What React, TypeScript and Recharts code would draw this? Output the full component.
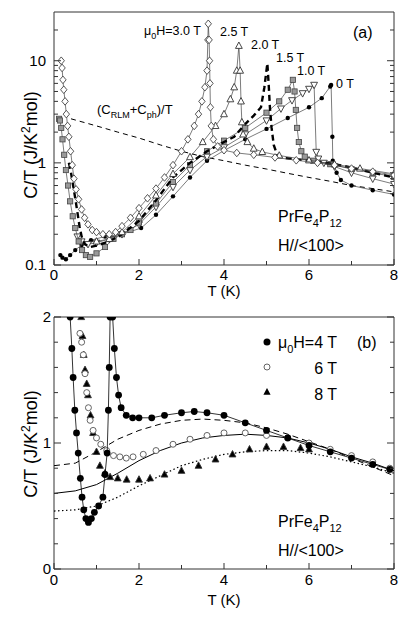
import { ComposedChart, Scatter, XAxis, YAxis } from "recharts";

const FONT = '"Liberation Sans", Arial, Helvetica, sans-serif';
const AXIS = "#333";

// ---- panel (a): C/T vs T, log scale ----
const xTicks = [0, 1, 2, 3, 4, 5, 6, 7, 8];
const xLabels = [0, 2, 4, 6, 8];
const logTicks = [0.1, 0.2, 0.3, 0.4, 0.5, 0.6, 0.7, 0.8, 0.9, 1, 2, 3, 4, 5, 6, 7, 8, 9, 10, 20];
const logLabels = [0.1, 1, 10];

const crlm = [
  [0.4, 2.7], [1.0, 2.3], [1.5, 2.0], [2.0, 1.75], [2.5, 1.5], [3.0, 1.3], [3.5, 1.15],
  [4.0, 1.05], [4.5, 0.95], [5.0, 0.87], [5.5, 0.79], [6.0, 0.72], [6.5, 0.66], [7.0, 0.6],
  [7.5, 0.56], [8.0, 0.52],
];

const h00 = [
  [0.15, 0.125], [0.2, 0.118], [0.28, 0.114], [0.38, 0.125], [0.5, 0.14], [0.65, 0.157],
  [0.87, 0.175], [1.2, 0.19], [1.6, 0.2], [2.05, 0.23], [2.4, 0.31], [2.8, 0.47], [3.2, 0.72],
  [3.6, 1.05], [4.0, 1.32], [4.5, 1.7], [5.0, 2.15], [5.5, 2.75], [6.0, 3.5], [6.3, 4.3],
  [6.5, 5.6], [6.52, 5.8], [6.55, 1.8], [6.56, 1.05], [6.6, 0.95], [6.65, 0.8], [6.75, 0.68],
  [7.0, 0.6], [7.5, 0.54], [8.0, 0.49],
];

const h10 = [
  [0.55, 0.19], [0.65, 0.17], [0.8, 0.16], [1.0, 0.165], [1.3, 0.18], [1.6, 0.2], [2.0, 0.25],
  [2.4, 0.37], [2.8, 0.58], [3.2, 0.85], [3.6, 1.15], [4.0, 1.42], [4.5, 1.9], [5.0, 2.6],
  [5.34, 3.4], [5.6, 4.1], [5.85, 4.8], [6.0, 5.3], [6.12, 5.8], [6.17, 1.28], [6.22, 1.1],
  [6.35, 1.0], [6.6, 0.92], [7.0, 0.8], [7.5, 0.7], [8.0, 0.62],
];

const h15 = [
  [0.12, 2.7], [0.14, 2.6], [0.17, 2.2], [0.2, 1.7], [0.24, 1.2], [0.28, 0.85], [0.33, 0.6],
  [0.38, 0.42], [0.44, 0.3], [0.5, 0.23], [0.58, 0.17], [0.66, 0.14], [0.75, 0.125], [0.85, 0.12],
  [1.0, 0.13], [1.2, 0.15], [1.4, 0.18], [1.6, 0.2], [1.8, 0.22], [2.0, 0.26], [2.4, 0.4],
  [2.8, 0.65], [3.2, 0.95], [3.6, 1.3], [4.0, 1.65], [4.5, 2.2], [5.0, 3.1], [5.3, 4.0],
  [5.5, 5.2], [5.62, 6.5], [5.66, 5.0], [5.69, 3.3], [5.72, 2.2], [5.76, 1.6], [5.82, 1.3],
  [5.9, 1.15], [6.1, 1.05], [6.5, 0.97], [7.0, 0.87], [7.5, 0.8], [8.0, 0.73],
];

const h20 = [
  [0.35, 1.0], [0.4, 0.8], [0.45, 0.6], [0.5, 0.45], [0.55, 0.33], [0.6, 0.24], [0.65, 0.19],
  [0.72, 0.16], [0.85, 0.15], [1.0, 0.155], [1.3, 0.17], [1.6, 0.2], [2.0, 0.27], [2.4, 0.43],
  [2.8, 0.72], [3.2, 1.0], [3.6, 1.3], [4.0, 1.6], [4.24, 1.8], [4.5, 2.4], [4.7, 2.9],
  [4.87, 3.5], [4.95, 5.5], [5.02, 9.4], [5.05, 6.0], [5.08, 3.5], [5.12, 2.2], [5.17, 1.5],
  [5.25, 1.2], [5.4, 1.12], [6.0, 1.05], [6.6, 0.97], [7.0, 0.9], [7.5, 0.8], [8.0, 0.72],
];

const h25 = [
  [1.0, 0.17], [1.3, 0.18], [1.6, 0.21], [2.0, 0.3], [2.4, 0.48], [2.8, 0.78], [3.2, 1.14],
  [3.5, 1.6], [3.8, 2.3], [4.0, 3.0], [4.15, 4.2], [4.24, 5.5], [4.3, 8.0], [4.35, 14],
  [4.38, 8.0], [4.4, 4.0], [4.42, 2.5], [4.45, 1.9], [4.55, 1.6], [4.7, 1.38], [4.9, 1.28],
  [5.3, 1.18], [6.0, 1.06], [6.6, 0.97], [7.2, 0.88], [8.0, 0.78],
];

const h30 = [
  [0.17, 10], [0.19, 8.5], [0.21, 6.5], [0.23, 5.2], [0.26, 4.0], [0.29, 3.0], [0.32, 2.3],
  [0.35, 1.8], [0.39, 1.3], [0.43, 0.95], [0.47, 0.7], [0.52, 0.55], [0.58, 0.44], [0.65, 0.35],
  [0.72, 0.29], [0.8, 0.25], [0.9, 0.22], [1.0, 0.21], [1.15, 0.2], [1.3, 0.2], [1.45, 0.21],
  [1.6, 0.24], [1.8, 0.29], [2.0, 0.36], [2.2, 0.45], [2.4, 0.56], [2.6, 0.72], [2.8, 0.95],
  [3.0, 1.3], [3.15, 1.7], [3.3, 2.3], [3.4, 3.0], [3.48, 4.0], [3.55, 5.5], [3.6, 8.0],
  [3.62, 16], [3.63, 23], [3.65, 16], [3.66, 10], [3.67, 6.0], [3.68, 3.5], [3.7, 2.3],
  [3.75, 1.7], [3.85, 1.45], [4.0, 1.33], [4.3, 1.25], [4.7, 1.2], [5.2, 1.13], [5.7, 1.06],
  [6.2, 1.0], [6.6, 0.95], [7.0, 0.88], [7.5, 0.82], [8.0, 0.76],
];

// ---- panel (b): C/T vs T, linear ----
const linTicks = [0, 0.2, 0.4, 0.6, 0.8, 1, 1.2, 1.4, 1.6, 1.8, 2];
const linLabels = [0, 1, 2];

const b4 = [
  [0.38, 2.0], [0.42, 1.75], [0.45, 1.52], [0.49, 1.26], [0.53, 1.08], [0.57, 0.92], [0.62, 0.72],
  [0.66, 0.57], [0.7, 0.47], [0.75, 0.4], [0.81, 0.37], [0.88, 0.4], [0.95, 0.45], [1.05, 0.5],
  [1.15, 0.57], [1.2, 0.75], [1.25, 0.92], [1.28, 1.26], [1.3, 1.6], [1.32, 2.0], [1.35, 2.6],
  [1.38, 2.0], [1.42, 1.75], [1.47, 1.52], [1.52, 1.38], [1.58, 1.28], [1.7, 1.22], [1.85, 1.2],
  [2.0, 1.2], [2.3, 1.2], [2.6, 1.22], [3.0, 1.24], [3.3, 1.25], [3.6, 1.24], [4.0, 1.22],
  [4.5, 1.16], [5.0, 1.1], [5.5, 1.04], [6.0, 0.98], [6.5, 0.93], [7.0, 0.88], [7.5, 0.83],
  [7.9, 0.79],
];

const b6 = [
  [0.61, 1.87], [0.65, 1.8], [0.69, 1.7], [0.73, 1.55], [0.77, 1.4], [0.81, 1.28], [0.85, 1.18],
  [0.92, 1.1], [1.0, 1.04], [1.1, 0.99], [1.24, 0.94], [1.4, 0.9], [1.55, 0.89], [1.7, 0.88],
  [1.86, 0.89], [2.1, 0.91], [2.4, 0.94], [2.8, 0.99], [3.2, 1.03], [3.6, 1.06], [4.0, 1.08],
  [4.5, 1.08], [5.0, 1.06], [5.5, 1.04], [6.0, 1.0], [6.5, 0.95], [7.0, 0.9], [7.5, 0.85],
  [7.9, 0.8],
];

const b8 = [
  [0.64, 2.0], [0.67, 1.85], [0.7, 1.7], [0.73, 1.58], [0.77, 1.47], [0.8, 1.38], [0.86, 1.22],
  [0.92, 1.08], [1.0, 0.93], [1.08, 0.82], [1.2, 0.76], [1.32, 0.73], [1.5, 0.72], [1.71, 0.71],
  [2.0, 0.71], [2.26, 0.72], [2.6, 0.75], [3.0, 0.78], [3.4, 0.82], [3.8, 0.87], [4.2, 0.91],
  [4.6, 0.95], [5.0, 0.97], [5.4, 0.97], [5.8, 0.96], [6.0, 0.95],
];

const calc4 = [
  [0, 0.82], [0.5, 0.84], [1, 0.93], [1.5, 1.03], [2, 1.1], [2.5, 1.15], [3, 1.18], [3.5, 1.19],
  [4, 1.18], [4.5, 1.16], [5, 1.12], [5.5, 1.07], [6, 1.01], [6.5, 0.95], [7, 0.88], [7.5, 0.81],
  [8, 0.74],
];
const calc6 = [
  [0, 0.6], [0.5, 0.62], [1, 0.67], [1.5, 0.76], [2, 0.86], [2.5, 0.94], [3, 1.0], [3.5, 1.04],
  [4, 1.06], [4.5, 1.07], [5, 1.06], [5.5, 1.04], [6, 1.0], [6.5, 0.95], [7, 0.89], [7.5, 0.84],
  [8, 0.78],
];
const calc8 = [
  [0, 0.46], [0.5, 0.47], [1, 0.5], [1.5, 0.57], [2, 0.66], [2.5, 0.74], [3, 0.82], [3.5, 0.87],
  [4, 0.91], [4.5, 0.93], [5, 0.94], [5.5, 0.94], [6, 0.92], [6.5, 0.89], [7, 0.85], [7.5, 0.81],
  [8, 0.76],
];

const pts = (rows: number[][]) => rows.map(([t, c]) => ({ t, c }));

// ---- markers ----
const NoDot = () => <g />;
const Diamond = ({ cx, cy }: any) => (
  <path d={`M${cx},${cy - 3.8}L${cx + 3.2},${cy}L${cx},${cy + 3.8}L${cx - 3.2},${cy}Z`} fill="#fff" stroke="#444" strokeWidth={0.9} />
);
const TriUp = ({ cx, cy, fill = "#fff" }: any) => (
  <path d={`M${cx},${cy - 3.8}L${cx + 3.4},${cy + 2.6}L${cx - 3.4},${cy + 2.6}Z`} fill={fill} stroke="#333" strokeWidth={0.9} />
);
const TriDown = ({ cx, cy }: any) => (
  <path d={`M${cx},${cy + 3.8}L${cx + 3.4},${cy - 2.6}L${cx - 3.4},${cy - 2.6}Z`} fill="#fff" stroke="#333" strokeWidth={0.9} />
);
const Square = ({ cx, cy }: any) => (
  <rect x={cx - 2.6} y={cy - 2.6} width={5.2} height={5.2} fill="#999" stroke="#444" strokeWidth={0.8} />
);
const Dot = ({ cx, cy, r = 2.2, fill = "#000", stroke = "none" }: any) => (
  <circle cx={cx} cy={cy} r={r} fill={fill} stroke={stroke} strokeWidth={0.9} />
);

// ---- inward ticks on all four sides ----
const xTick = (side: "bottom" | "top", labelDy: number) => (props: any) => {
  const { x, y, payload } = props;
  const major = xLabels.includes(payload.value);
  const len = major ? 6 : 4;
  const dir = side === "bottom" ? -1 : 1;
  return (
    <g>
      <line x1={x} x2={x} y1={y} y2={y + dir * len} stroke={AXIS} />
      {side === "bottom" && major ? (
        <text x={x} y={y + labelDy} textAnchor="middle" fontSize={15} fontFamily={FONT} fill="#000">
          {payload.value}
        </text>
      ) : null}
    </g>
  );
};

const yTick = (side: "left" | "right", labels: number[], gap: number) => (props: any) => {
  const { x, y, payload } = props;
  const major = labels.includes(payload.value);
  const len = major ? 7 : 4;
  const dir = side === "left" ? 1 : -1;
  return (
    <g>
      <line x1={x} x2={x + dir * len} y1={y} y2={y} stroke={AXIS} />
      {side === "left" && major ? (
        <text x={x - gap} y={y} dy="0.36em" textAnchor="end" fontSize={15} fontFamily={FONT} fill="#000">
          {payload.value}
        </text>
      ) : null}
    </g>
  );
};

const axisLine = { stroke: AXIS, strokeWidth: 1 };
const thin = { stroke: "#444", strokeWidth: 0.7 };

function PanelA() {
  return (
    <ComposedChart width={409} height={300} margin={{ top: 11, right: 14, bottom: 0, left: 0 }}>
      <XAxis xAxisId="b" dataKey="t" type="number" domain={[0, 8]} ticks={xTicks} interval={0} height={35}
        tickSize={0} tickMargin={0} tickLine={false} axisLine={axisLine} tick={xTick("bottom", 15)} allowDataOverflow />
      <XAxis xAxisId="t" orientation="top" type="number" domain={[0, 8]} ticks={xTicks} interval={0} height={1}
        tickSize={0} tickMargin={0} tickLine={false} axisLine={axisLine} tick={xTick("top", 0)} allowDataOverflow />
      <YAxis yAxisId="l" dataKey="c" type="number" scale="log" domain={[0.1, 30]} ticks={logTicks} interval={0}
        width={54} tickSize={0} tickMargin={0} tickLine={false} axisLine={axisLine} tick={yTick("left", logLabels, 8)} allowDataOverflow />
      <YAxis yAxisId="r" orientation="right" type="number" scale="log" domain={[0.1, 30]} ticks={logTicks} interval={0}
        width={1} tickSize={0} tickMargin={0} tickLine={false} axisLine={axisLine} tick={yTick("right", logLabels, 0)} allowDataOverflow />

      <Scatter xAxisId="b" yAxisId="l" data={pts(crlm)} shape={NoDot} isAnimationActive={false}
        line={{ stroke: "#000", strokeWidth: 1, strokeDasharray: "5 4" }} />
      <Scatter xAxisId="b" yAxisId="l" data={pts(h00)} shape={(p: any) => <Dot {...p} />} isAnimationActive={false} line={thin} />
      <Scatter xAxisId="b" yAxisId="l" data={pts(h10)} shape={TriDown} isAnimationActive={false} line={thin} />
      <Scatter xAxisId="b" yAxisId="l" data={pts(h15)} shape={Square} isAnimationActive={false} line={thin} />
      <Scatter xAxisId="b" yAxisId="l" data={pts(h20)} shape={NoDot} isAnimationActive={false}
        line={{ stroke: "#000", strokeWidth: 2.4, strokeDasharray: "6 4" }} />
      <Scatter xAxisId="b" yAxisId="l" data={pts(h25)} shape={(p: any) => <TriUp {...p} />} isAnimationActive={false} line={thin} />
      <Scatter xAxisId="b" yAxisId="l" data={pts(h30)} shape={Diamond} isAnimationActive={false} line={thin} />
    </ComposedChart>
  );
}

function PanelB() {
  return (
    <ComposedChart width={409} height={321} margin={{ top: 16, right: 14, bottom: 0, left: 0 }}>
      <XAxis xAxisId="b" dataKey="t" type="number" domain={[0, 8]} ticks={xTicks} interval={0} height={52}
        tickSize={0} tickMargin={0} tickLine={false} axisLine={axisLine} tick={xTick("bottom", 16)} allowDataOverflow />
      <XAxis xAxisId="t" orientation="top" type="number" domain={[0, 8]} ticks={xTicks} interval={0} height={1}
        tickSize={0} tickMargin={0} tickLine={false} axisLine={axisLine} tick={xTick("top", 0)} allowDataOverflow />
      <YAxis yAxisId="l" dataKey="c" type="number" domain={[0, 2]} ticks={linTicks} interval={0}
        width={54} tickSize={0} tickMargin={0} tickLine={false} axisLine={axisLine} tick={yTick("left", linLabels, 3)} allowDataOverflow />
      <YAxis yAxisId="r" orientation="right" type="number" domain={[0, 2]} ticks={linTicks} interval={0}
        width={1} tickSize={0} tickMargin={0} tickLine={false} axisLine={axisLine} tick={yTick("right", linLabels, 0)} allowDataOverflow />

      <Scatter xAxisId="b" yAxisId="l" data={pts(calc4)} shape={NoDot} isAnimationActive={false}
        line={{ stroke: "#000", strokeWidth: 1, strokeDasharray: "6 4" }} />
      <Scatter xAxisId="b" yAxisId="l" data={pts(calc6)} shape={NoDot} isAnimationActive={false}
        line={{ stroke: "#000", strokeWidth: 1 }} />
      <Scatter xAxisId="b" yAxisId="l" data={pts(calc8)} shape={NoDot} isAnimationActive={false}
        line={{ stroke: "#000", strokeWidth: 1.2, strokeDasharray: "1.5 2.5" }} />
      <Scatter xAxisId="b" yAxisId="l" data={pts(b8)} shape={(p: any) => <TriUp {...p} fill="#000" />} isAnimationActive={false} />
      <Scatter xAxisId="b" yAxisId="l" data={pts(b6)} shape={(p: any) => <Dot {...p} r={3} fill="#fff" stroke="#555" />} isAnimationActive={false} />
      <Scatter xAxisId="b" yAxisId="l" data={pts(b4)} shape={(p: any) => <Dot {...p} r={3.4} />} isAnimationActive={false}
        line={{ stroke: "#000", strokeWidth: 0.8 }} />
    </ComposedChart>
  );
}

const Sub = ({ children, size = 10, d = 4 }: any) => (
  <tspan fontSize={size} dy={d}>{children}</tspan>
);

const YTitle = ({ cx, cy }: { cx: number; cy: number }) => (
  <text transform={`rotate(-90 ${cx} ${cy})`} x={cx} y={cy} textAnchor="middle" fontSize={18}>
    C/T (J/K<tspan fontSize={12} dy={-7}>2</tspan><tspan dy={7}>mol)</tspan>
  </text>
);

function Annotations() {
  return (
    <svg width={409} height={621} style={{ position: "absolute", left: 0, top: 0, pointerEvents: "none" }}
      fontFamily={FONT} fill="#000">
      {/* axis titles */}
      <YTitle cx={37} cy={145} />
      <text x={224} y={296} textAnchor="middle" fontSize={15}>T (K)</text>
      <YTitle cx={37} cy={444} />
      <text x={224} y={605} textAnchor="middle" fontSize={15}>T (K)</text>

      {/* panel (a) */}
      <text x={144} y={35} fontSize={12.5}>
        μ<Sub size={9} d={4}>0</Sub><tspan dy={-4}>H=3.0 T</tspan>
      </text>
      <text x={220} y={36} fontSize={12.5}>2.5 T</text>
      <text x={251} y={49} fontSize={12.5}>2.0 T</text>
      <text x={276} y={62} fontSize={12.5}>1.5 T</text>
      <text x={297} y={75} fontSize={12.5}>1.0 T</text>
      <text x={336} y={88} fontSize={12.5}>0 T</text>
      <text x={353} y={38} fontSize={16}>(a)</text>
      <text x={97} y={114} fontSize={13}>
        (C<Sub size={9} d={4}>RLM</Sub><tspan dy={-4}>+C</tspan><Sub size={9} d={4}>ph</Sub><tspan dy={-4}>)/T</tspan>
      </text>
      <text x={278} y={222} fontSize={16}>
        PrFe<Sub size={11} d={5}>4</Sub><tspan dy={-5}>P</tspan><Sub size={11} d={5}>12</Sub>
      </text>
      <text x={278} y={251} fontSize={16}>H//&lt;100&gt;</text>

      {/* panel (b) legend */}
      <circle cx={267} cy={342} r={3.5} fill="#000" />
      <text x={337} y={348} textAnchor="end" fontSize={16}>
        μ<Sub size={11} d={5}>0</Sub><tspan dy={-5}>H=4 T</tspan>
      </text>
      <text x={357} y={348} fontSize={16}>(b)</text>
      <circle cx={267} cy={367} r={3} fill="#fff" stroke="#555" strokeWidth={0.9} />
      <text x={337} y={374} textAnchor="end" fontSize={16}>6 T</text>
      <path d="M267,388L270.6,394.8L263.4,394.8Z" fill="#000" />
      <text x={337} y={400} textAnchor="end" fontSize={16}>8 T</text>
      <text x={278} y={527} fontSize={16}>
        PrFe<Sub size={11} d={5}>4</Sub><tspan dy={-5}>P</tspan><Sub size={11} d={5}>12</Sub>
      </text>
      <text x={278} y={556} fontSize={16}>H//&lt;100&gt;</text>
    </svg>
  );
}

export default function App() {
  return (
    <div style={{ position: "absolute", left: 0, top: 0, width: 409, height: 621, background: "#fff" }}>
      <div style={{ position: "absolute", left: 0, top: 0 }}>
        <PanelA />
      </div>
      <div style={{ position: "absolute", left: 0, top: 300 }}>
        <PanelB />
      </div>
      <Annotations />
    </div>
  );
}
